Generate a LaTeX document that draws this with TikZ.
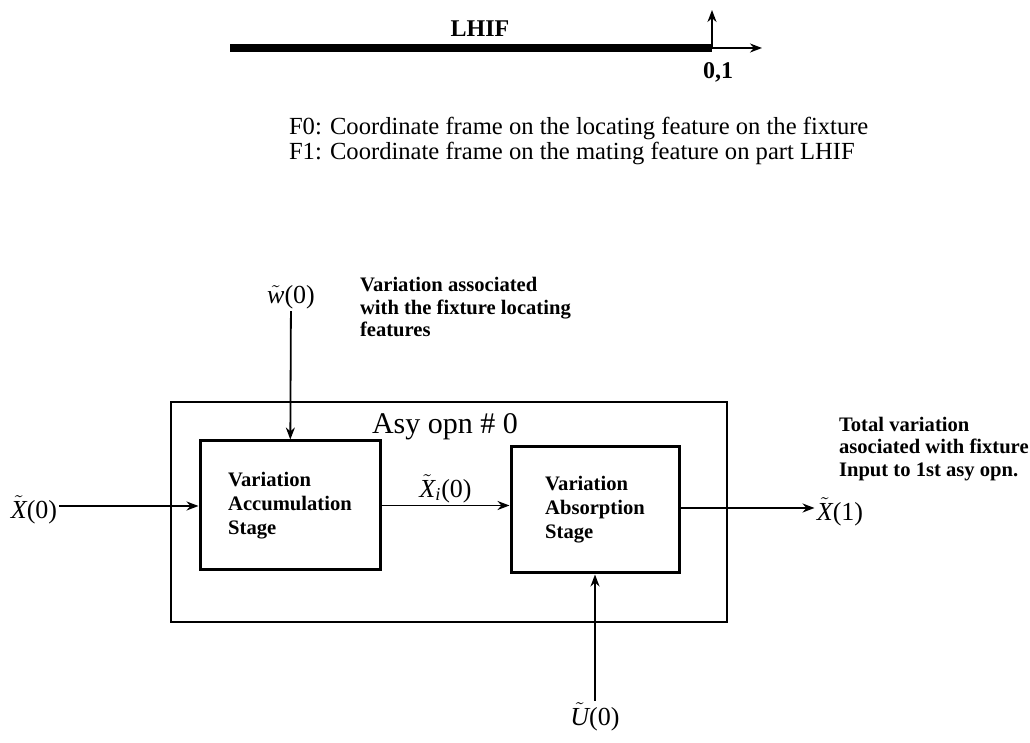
\documentclass[tikz,border=0pt]{standalone}
\usepackage{fontspec}
\setmainfont{Liberation Serif}
\usetikzlibrary{arrows.meta}
\newcommand{\tv}[1]{$\tilde{\textit{#1}}$}
\begin{document}
\begin{tikzpicture}[
    x=0.5pt,y=-0.5pt,
    stagebox/.style={draw,line width=1.5pt,align=left,inner sep=0pt,
        font=\bfseries\fontsize{10.3}{12}\selectfont},
    note/.style={align=left,anchor=west,font=\bfseries\fontsize{10.3}{11.4}\selectfont},
    sig/.style={inner sep=1pt,font=\fontsize{13}{15}\selectfont},
    >={Stealth[length=6pt,width=4.5pt]}
]
\useasboundingbox (0,0) rectangle (1030,743);

% part LHIF with frames 0,1
\fill (230,44) rectangle (712,52);
\coordinate (O) at (712,48);
\coordinate (Ox) at (762,48);
\coordinate (Oy) at (712,10);
\draw[->,line width=1pt] (O)--(Ox);
\draw[->,line width=1pt] (O)--(Oy);
\node[font=\bfseries\fontsize{12}{14}\selectfont] (part) at (480,29) {LHIF};
\node[font=\bfseries\fontsize{12}{14}\selectfont] (frames) at (718,72) {0,1};

\node[align=left,anchor=west,font=\fontsize{12.3}{12.5}\selectfont] (legend) at (282,141)
    {F0: Coordinate frame on the locating feature on the fixture\\
     F1: Coordinate frame on the mating feature on part LHIF};

% assembly operation 0
\node[draw,line width=1pt,minimum width=278pt,minimum height=110pt] (opn) at (449,512) {};
\node[font=\fontsize{15}{17}\selectfont] (opnlabel) at (445,427) {Asy opn \# 0};
\node[stagebox,minimum width=90pt,minimum height=64.5pt] (acc) at (290,505.5)
    {Variation\\Accumulation\\Stage};
\node[stagebox,minimum width=84pt,minimum height=63pt] (abs) at (595,510)
    {Variation\\Absorption\\Stage};

\node[sig] (xin) at (34,510) {\tv{X}(0)};
\node[sig] (xout) at (840,512) {\tv{X}(1)};
\node[sig] (win) at (291,297) {\tv{w}(0)};
\node[sig] (uin) at (595,717) {\tv{U}(0)};

\draw[->,line width=0.9pt] (xin.east |- 0,506)--(acc.west |- 0,506);
\draw[->,line width=0.9pt] (acc.east)--node[sig,above]{\tv{X}\textsubscript{\textit{i}}(0)}(abs.west |- acc.east);
\draw[->,line width=0.9pt] (abs.east |- 0,508)--(xout.west |- 0,508);
\draw[->,line width=0.9pt] (win)--(acc);
\draw[->,line width=0.9pt] (uin)--(abs);

\node[note] (wnote) at (353,307)
    {Variation associated\\with the fixture locating\\features};
\node[note] (xnote) at (832,449)
    {Total variation\\asociated with fixture\\Input to 1st asy opn.};
\end{tikzpicture}
\end{document}
